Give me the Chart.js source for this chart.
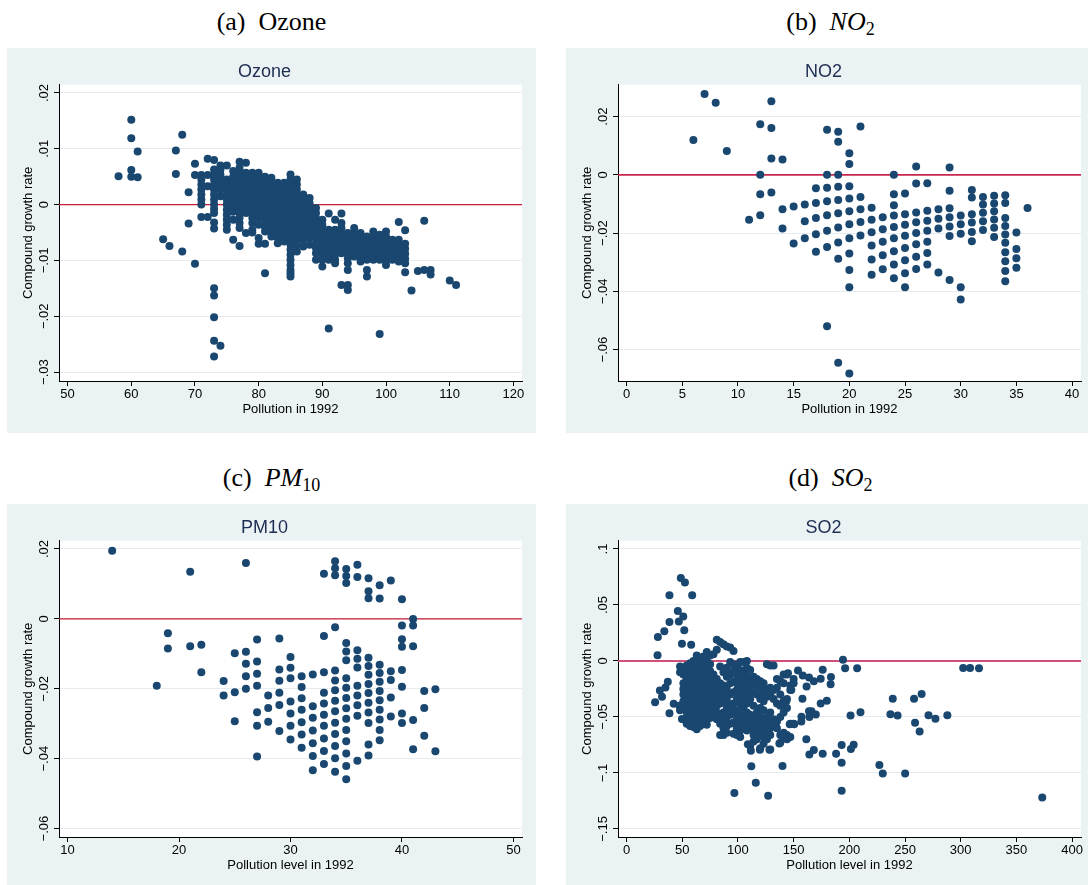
<!DOCTYPE html>
<html>
<head>
<meta charset="utf-8">
<script src="https://cdn.jsdelivr.net/npm/chart.js@4.4.0/dist/chart.umd.min.js"></script>
<style>
html,body{margin:0;padding:0;background:#fff;overflow:hidden}
#page{position:relative;width:1088px;height:885px;overflow:hidden;background:#fff}
.cap{position:absolute;width:529px;text-align:center;font-family:"Liberation Serif","Times New Roman",serif;font-size:26px;line-height:30px;color:#000;white-space:nowrap}
.cap .lab{margin-right:13px}
.cap i{font-style:italic}
.cap sub{font-size:18px;line-height:0;vertical-align:-5px}
.panel{position:absolute;width:529px;height:385px;background:#EAF2F3}
.panel canvas{display:block}
</style>
</head>
<body>
<div id="page">
  <div class="cap" style="left:7px;top:7px"><span class="lab">(a)</span>Ozone</div>
  <div class="cap" style="left:566px;top:7px"><span class="lab">(b)</span><i>NO</i><sub>2</sub></div>
  <div class="cap" style="left:7px;top:463px"><span class="lab">(c)</span><i>PM</i><sub>10</sub></div>
  <div class="cap" style="left:566px;top:463px"><span class="lab">(d)</span><i>SO</i><sub>2</sub></div>
  <div class="panel" style="left:7px;top:48px"><canvas id="cOzone" width="529" height="385"></canvas></div>
  <div class="panel" style="left:566px;top:48px"><canvas id="cNO2" width="529" height="385"></canvas></div>
  <div class="panel" style="left:7px;top:504px"><canvas id="cPM10" width="529" height="385"></canvas></div>
  <div class="panel" style="left:566px;top:504px"><canvas id="cSO2" width="529" height="385"></canvas></div>
</div>
<script>
// ---------------- Ozone ----------------
const ozonePollution = [58,60,61,65,66,67,68,69,70,71,72,73,74,75,76,77,78,79,80,81,82,83,84,85,86,87,88,89,90,91,92,93,94,95,96,97,98,99,100,101,102,103,104,105,106,107,110,111];
const ozoneGrowth = [
  [0.0051],
  [0.0152,0.0119,0.0062,0.005],
  [0.0095,0.0049],
  [-0.0062],
  [-0.0074],
  [0.0097,0.0055],
  [0.0125,-0.0084],
  [0.0022,-0.0034],
  [0.0073,0.0053,-0.0106],
  [0.0053,0.0045,0.0036,0.0027,0.0018,0.0009,0.0,-0.0022],
  [0.0082,0.0053,0.0033,-0.0022],
  [0.008,0.0063,0.0054,0.0045,0.0036,0.0027,0.0018,0.0009,0.0,-0.0008,-0.0015,-0.0032,-0.0043,-0.015,-0.0163,-0.0202,-0.0244,-0.0272],
  [0.007,0.0063,0.0054,0.0045,0.0036,0.0027,0.0015,-0.0253],
  [0.007,0.0045,0.0036,0.0027,0.0018,0.0009,0.0,-0.0009,-0.0018,-0.0027,-0.0036,-0.0045],
  [0.006,0.005,0.0041,0.0032,0.0023,0.0014,0.0005,-0.0004,-0.0013,-0.0027,-0.0063],
  [0.0077,0.0066,0.0057,0.0048,0.0039,0.003,0.0021,0.0012,0.0003,-0.0006,-0.0015,-0.0024,-0.0033,-0.0042,-0.0074],
  [0.0075,0.0057,0.0048,0.0039,0.003,0.0021,0.0012,0.0003,-0.0006,-0.0015,-0.0051],
  [0.0057,0.0048,0.0039,0.003,0.0021,0.0012,0.0003,-0.0006,-0.0015,-0.0024,-0.0033,-0.0045,-0.005],
  [0.0057,0.0048,0.0039,0.003,0.0021,0.0012,0.0003,-0.0006,-0.0015,-0.0024,-0.0036,-0.006,-0.007],
  [0.005,0.0041,0.0032,0.0023,0.0014,0.0005,-0.0004,-0.0013,-0.0022,-0.0031,-0.004,-0.0048,-0.007,-0.0123],
  [0.0048,0.0039,0.003,0.0021,0.0012,0.0003,-0.0006,-0.0015,-0.0024,-0.0033,-0.0042,-0.0051,-0.0057],
  [0.0039,0.003,0.0021,0.0012,0.0003,-0.0006,-0.0015,-0.0024,-0.0033,-0.0042,-0.0051,-0.006,-0.0069],
  [0.0039,0.003,0.0021,0.0012,0.0003,-0.0006,-0.0015,-0.0024,-0.0033,-0.0042,-0.0051,-0.006,-0.0066],
  [0.0054,0.0045,0.0036,0.0027,0.0018,0.0009,0.0,-0.0009,-0.0018,-0.0027,-0.0036,-0.0045,-0.0054,-0.0063,-0.0072,-0.0081,-0.009,-0.0099,-0.0108,-0.0117,-0.0123,-0.0129],
  [0.0045,0.0036,0.0027,0.0018,0.0009,0.0,-0.0009,-0.0018,-0.0027,-0.0036,-0.0045,-0.0054,-0.0063,-0.0072,-0.0084],
  [0.0018,0.0009,0.0,-0.0009,-0.0018,-0.0027,-0.0036,-0.0045,-0.0054,-0.0063,-0.0075],
  [0.0012,0.0003,-0.0006,-0.0015,-0.0024,-0.0033,-0.0042,-0.0051,-0.006,-0.0072],
  [-0.0006,-0.0015,-0.0024,-0.0033,-0.0042,-0.0051,-0.006,-0.0069,-0.0078,-0.0087,-0.0099],
  [-0.0027,-0.0036,-0.0045,-0.0054,-0.0063,-0.0072,-0.0081,-0.009,-0.0099,-0.0111],
  [-0.0016,-0.0045,-0.0054,-0.0063,-0.0072,-0.0081,-0.009,-0.0099,-0.0222],
  [-0.0027,-0.0045,-0.0054,-0.0063,-0.0072,-0.0081,-0.009,-0.0099,-0.0105],
  [-0.0016,-0.0033,-0.0042,-0.0051,-0.006,-0.0069,-0.0078,-0.0087,-0.0144],
  [-0.0051,-0.006,-0.0069,-0.0078,-0.0087,-0.0096,-0.0105,-0.0117,-0.0144,-0.0153],
  [-0.0042,-0.0051,-0.006,-0.0069,-0.0078,-0.0087,-0.0093],
  [-0.0051,-0.006,-0.0069,-0.0078,-0.0087,-0.0096,-0.0102],
  [-0.0057,-0.0066,-0.0075,-0.0084,-0.0093,-0.0099,-0.0117,-0.0129],
  [-0.0048,-0.0057,-0.0066,-0.0075,-0.0084,-0.0093,-0.0099],
  [-0.0054,-0.0063,-0.0072,-0.0081,-0.009,-0.0099,-0.0232],
  [-0.0048,-0.0057,-0.0066,-0.0075,-0.0084,-0.0093,-0.0102,-0.0108],
  [-0.0063,-0.0072,-0.0081,-0.009,-0.0099],
  [-0.0031,-0.0063,-0.0072,-0.0081,-0.009,-0.0099,-0.0102],
  [-0.0046,-0.007,-0.0079,-0.0088,-0.0097,-0.0105,-0.0121],
  [-0.0154],
  [-0.0119],
  [-0.0029,-0.0117],
  [-0.0117,-0.0125],
  [-0.0136],
  [-0.0144]
];
const ozoneXTicks = [50,60,70,80,90,100,110,120];
const ozoneYTicks = [-0.03,-0.02,-0.01,0,0.01,0.02];
const ozoneYLabels = ['\u2212.03','\u2212.02','\u2212.01','0','.01','.02'];

// ---------------- NO2 ----------------
const no2Pollution = [6,7,8,9,11,12,13,14,15,16,17,18,19,20,21,22,23,24,25,26,27,28,29,30,31,32,33,34,35,36];
const no2Growth = [
  [0.012],
  [0.0278],
  [0.0248],
  [0.0082],
  [-0.0154],
  [0.0174,0,-0.0067,-0.0139],
  [0.0253,0.0161,0.0056,-0.0061],
  [0.0053,-0.0118,-0.0184],
  [-0.0109,-0.0236],
  [-0.0102,-0.0159,-0.0218],
  [-0.0046,-0.0097,-0.0148,-0.0204,-0.0264],
  [0.0155,0,-0.0044,-0.0091,-0.0139,-0.0192,-0.0248,-0.052],
  [0.0148,0.0114,0,-0.0041,-0.0086,-0.0132,-0.0181,-0.0232,-0.0288,-0.0645],
  [0.0074,0.0037,-0.0039,-0.0081,-0.0125,-0.017,-0.0218,-0.027,-0.0327,-0.0386,-0.0682],
  [0.0166,-0.0076,-0.0118,-0.0162,-0.0208],
  [-0.0113,-0.0154,-0.0197,-0.0243,-0.0291,-0.0343],
  [-0.0146,-0.0187,-0.023,-0.0276,-0.0324],
  [0,-0.0067,-0.0104,-0.014,-0.0179,-0.0218,-0.0262,-0.0308,-0.0355],
  [-0.0064,-0.0135,-0.0171,-0.0209,-0.0251,-0.0293,-0.0338,-0.0386],
  [0.0029,-0.003,-0.0129,-0.0163,-0.02,-0.0238,-0.0281,-0.0323],
  [-0.0029,-0.0123,-0.0158,-0.0192,-0.023,-0.0268,-0.0308],
  [-0.0118,-0.0151,-0.0184,-0.0335],
  [0.0025,-0.0055,-0.0115,-0.0146,-0.0177,-0.021,-0.0361],
  [-0.014,-0.017,-0.0202,-0.0386,-0.0428],
  [-0.0052,-0.0078,-0.0135,-0.0164,-0.0196,-0.0228],
  [-0.0076,-0.0102,-0.013,-0.0159,-0.0189],
  [-0.0072,-0.0098,-0.0125,-0.0153,-0.0182,-0.0213],
  [-0.007,-0.0097,-0.0148,-0.0176,-0.0205,-0.0233,-0.0266,-0.0297,-0.033,-0.0365],
  [-0.0198,-0.0255,-0.0286,-0.0319],
  [-0.0114]
];
const no2XTicks = [0,5,10,15,20,25,30,35,40];
const no2YTicks = [-0.06,-0.04,-0.02,0,0.02];
const no2YLabels = ['\u2212.06','\u2212.04','\u2212.02','0','.02'];

// ---------------- PM10 ----------------
const pm10Pollution = [14,18,19,21,22,24,25,26,27,28,29,30,31,32,33,34,35,36,37,38,39,40,41,42,43];
const pm10Growth = [
  [0.0195],
  [-0.0191],
  [-0.0041,-0.0085],
  [0.0135,-0.0078],
  [-0.0074,-0.0153],
  [-0.0178,-0.0219],
  [-0.0098,-0.021,-0.0293],
  [0.016,-0.0094,-0.0128,-0.0164,-0.02],
  [-0.0059,-0.0122,-0.0157,-0.0191,-0.0267,-0.0306,-0.0394],
  [-0.0219,-0.0255,-0.0294],
  [-0.0056,-0.0145,-0.0177,-0.0211,-0.0246,-0.0321],
  [-0.0109,-0.014,-0.017,-0.0236,-0.0271,-0.0306,-0.0345],
  [-0.0164,-0.0195,-0.0227,-0.026,-0.0296,-0.0331,-0.0369],
  [-0.0159,-0.025,-0.0283,-0.0319,-0.0356,-0.0392,-0.0433],
  [0.0129,-0.0049,-0.0153,-0.0211,-0.0242,-0.0274,-0.0306,-0.0342,-0.0378,-0.0415],
  [0.0165,0.0145,0.0125,-0.0024,-0.0148,-0.0176,-0.0204,-0.0234,-0.0264,-0.0297,-0.0329,-0.0364,-0.0399,-0.0437],
  [0.0143,0.0123,0.0103,-0.0069,-0.0093,-0.0118,-0.017,-0.0197,-0.0226,-0.0256,-0.0286,-0.0318,-0.035,-0.0385,-0.0421,-0.0459],
  [0.0155,0.012,-0.009,-0.0114,-0.0139,-0.0191,-0.0219,-0.0247,-0.0277,-0.0406],
  [0.0116,0.0079,0.0059,-0.0111,-0.0135,-0.016,-0.0186,-0.0212,-0.024,-0.0268,-0.0298,-0.0359,-0.0391],
  [0.0096,0.0058,-0.0131,-0.0155,-0.018,-0.0206,-0.0233,-0.026,-0.0288,-0.0318,-0.0347],
  [0.011,-0.015,-0.0175,-0.0225,-0.0279],
  [0.0056,-0.0019,-0.0058,-0.008,-0.0146,-0.0194,-0.0271,-0.0298],
  [0,-0.0019,-0.0078,-0.0289,-0.0373],
  [-0.0206,-0.0255,-0.0334],
  [-0.0201,-0.0379]
];
const pm10XTicks = [10,20,30,40,50];
const pm10YTicks = [-0.06,-0.04,-0.02,0,0.02];
const pm10YLabels = ['\u2212.06','\u2212.04','\u2212.02','0','.02'];

// ---------------- SO2 ----------------
const so2Level = [48,51,54,57,60,63,66,69,72,75,78,81,84,87,90,93,96,99,102,105,108,111,114,117,120,123,126,129,132,135,138,141,144,147,150,
  48.7,52.4,38.5,58.9,46,50.9,38.5,46.9,33.9,51.8,28.1,49.7,58,27.8,25.6,29.9,31.8,34.9,37,38.5,42.3,49.7,47.5,
  194.3,196.2,207,176.1,183.5,183.2,174.3,168.1,163.8,161.6,158.2,153.9,157.9,174.3,179.8,201.1,210,169.9,163.8,164.1,157,150.5,146.5,
  176.1,188.1,193.1,203.9,201.4,193.1,193.1,164.1,168.1,227,230,250.1,239,236.9,243.3,258.1,264.9,259,263.1,271.1,277.3,288,
  302.2,308.4,316.4,373.2,96.8,116,127.1,112,140,137.2,111.6,119.7,128.3,108.9,144.9,147.9,143.4,166,156.9,161.4];
const so2Growth = [
  [-0.005,-0.01,-0.04,-0.044],
  [-0.006,-0.012,-0.02,-0.025,-0.03,-0.036,-0.042,-0.052],
  [-0.004,-0.01,-0.016,-0.022,-0.028,-0.034,-0.04,-0.046,-0.052,-0.056],
  [-0.002,-0.008,-0.014,-0.02,-0.026,-0.032,-0.038,-0.044,-0.05,-0.058],
  [0.0,-0.006,-0.012,-0.018,-0.024,-0.03,-0.036,-0.042,-0.048,-0.054,-0.059],
  [0.005,-0.003,-0.009,-0.015,-0.021,-0.027,-0.033,-0.039,-0.045,-0.051,-0.057,-0.061],
  [0.002,-0.004,-0.01,-0.016,-0.022,-0.028,-0.034,-0.04,-0.046,-0.052,-0.058],
  [0.004,-0.002,-0.008,-0.014,-0.02,-0.026,-0.032,-0.038,-0.044,-0.05,-0.056],
  [0.008,0.002,-0.005,-0.011,-0.017,-0.023,-0.029,-0.035,-0.041,-0.047,-0.053,-0.057],
  [0.005,-0.003,-0.009,-0.015,-0.021,-0.027,-0.033,-0.039,-0.045,-0.051],
  [0.006,-0.012,-0.018,-0.024,-0.03,-0.036,-0.042,-0.048],
  [0.019,0.01,-0.016,-0.022,-0.028,-0.034,-0.04,-0.046,-0.052],
  [0.017,-0.005,-0.02,-0.026,-0.032,-0.038,-0.05,-0.056,-0.066],
  [0.015,-0.01,-0.022,-0.03,-0.036,-0.046,-0.054,-0.06,-0.066],
  [0.013,-0.006,-0.014,-0.025,-0.035,-0.042,-0.05,-0.058,-0.064],
  [0.012,-0.001,-0.012,-0.02,-0.03,-0.04,-0.048,-0.056],
  [0.009,-0.003,-0.009,-0.018,-0.028,-0.038,-0.046,-0.055,-0.065],
  [-0.005,-0.012,-0.02,-0.026,-0.034,-0.044,-0.052,-0.06,-0.066],
  [-0.001,-0.008,-0.016,-0.024,-0.03,-0.038,-0.048,-0.056,-0.062,-0.068],
  [-0.001,-0.01,-0.018,-0.026,-0.034,-0.042,-0.05,-0.058],
  [0.0,-0.006,-0.014,-0.022,-0.03,-0.038,-0.046,-0.054,-0.062],
  [-0.008,-0.016,-0.024,-0.034,-0.048,-0.056,-0.06,-0.076],
  [-0.014,-0.02,-0.028,-0.04,-0.052,-0.058,-0.066,-0.072],
  [-0.016,-0.022,-0.03,-0.046,-0.056,-0.062,-0.07],
  [-0.018,-0.024,-0.034,-0.042,-0.05,-0.058,-0.064,-0.078],
  [-0.02,-0.028,-0.036,-0.044,-0.054,-0.06,-0.068,-0.074],
  [-0.003,-0.026,-0.032,-0.05,-0.056,-0.064,-0.07],
  [-0.004,-0.024,-0.03,-0.046,-0.054,-0.06,-0.066,-0.079],
  [-0.004,-0.026,-0.034,-0.052,-0.058],
  [-0.016,-0.024,-0.038,-0.054,-0.06],
  [-0.018,-0.03,-0.04,-0.05,-0.066,-0.073],
  [-0.012,-0.02,-0.036,-0.046,-0.064,-0.068],
  [-0.012,-0.034,-0.042,-0.066,-0.07],
  [-0.022,-0.026,-0.056,-0.068],
  [-0.016,-0.02,-0.056],
  [0.074],[0.070],[0.0587],[0.0587],[0.0446],[0.0398],[0.0347],[0.0353],[0.0266],[0.0275],[0.0213],[0.0153],[0.0144],[0.0051],
  [-0.0368],[-0.0263],[-0.032],[-0.0237],[-0.0186],[-0.0467],[-0.0383],[-0.0518],[-0.040],
  [0.0012],[-0.0066],[-0.0066],[-0.0078],[-0.0144],[-0.0207],[-0.0159],[-0.018],[-0.0147],[-0.0228],[-0.0129],[-0.0084],[-0.0338],[-0.038],[-0.0356],[-0.0488],[-0.0458],[-0.0479],[-0.0449],[-0.05],[-0.0497],[-0.0566],[-0.0566],
  [-0.0829],[-0.0829],[-0.0751],[-0.0749],[-0.0787],[-0.091],[-0.1159],[-0.0835],[-0.0796],[-0.0928],[-0.1006],[-0.1006],[-0.0338],[-0.0476],[-0.0488],[-0.0338],[-0.0296],[-0.0551],[-0.0629],[-0.0485],[-0.0515],[-0.0485],
  [-0.0063],[-0.0063],[-0.0066],[-0.1219],[-0.118],[-0.1087],[-0.1204],[-0.094],[-0.0937],[-0.0737],[-0.0802],[-0.0793],[-0.0793],[-0.0743],[-0.011],[-0.026],[-0.036],[-0.045],[-0.054],[-0.07]
];
const so2XTicks = [0,50,100,150,200,250,300,350,400];
const so2YTicks = [-0.15,-0.1,-0.05,0,0.05,0.1];
const so2YLabels = ['\u2212.15','\u2212.1','\u2212.05','0','.05','.1'];

const referenceLevel = 0;

// ---------------- helpers ----------------
Chart.defaults.font.family = '"Liberation Sans", Arial, sans-serif';
Chart.defaults.color = '#000';

function columnsToPoints(xs, ys) {
  const pts = [];
  xs.forEach((x, i) => ys[i].forEach(y => pts.push({x: x, y: y})));
  return pts;
}

const plotBackground = {
  id: 'plotBackground',
  beforeDraw(chart) {
    const a = chart.chartArea, ctx = chart.ctx;
    ctx.save();
    ctx.fillStyle = '#ffffff';
    ctx.fillRect(a.left, a.top, a.right - a.left, a.bottom - a.top);
    ctx.restore();
  }
};

function makePanel(id, opts) {
  const points = columnsToPoints(opts.xs, opts.ys);
  new Chart(document.getElementById(id), {
    type: 'scatter',
    data: {
      datasets: [
        {
          type: 'scatter',
          data: points,
          backgroundColor: '#1A476F',
          borderColor: '#1A476F',
          borderWidth: 0,
          pointRadius: 4,
          pointHoverRadius: 4
        },
        {
          type: 'line',
          data: [{x: opts.xMin, y: referenceLevel}, {x: opts.xMax, y: referenceLevel}],
          borderColor: opts.refColor,
          borderWidth: opts.refWidth,
          pointRadius: 0,
          fill: false
        }
      ]
    },
    options: {
      responsive: false,
      animation: false,
      events: [],
      layout: {padding: {left: 0, right: 14, top: 0, bottom: 0}},
      plugins: {
        legend: {display: false},
        tooltip: {enabled: false},
        title: {
          display: true,
          text: opts.title,
          color: '#1E2D53',
          font: {size: 18, weight: 'normal'},
          padding: {top: 13, bottom: 2}
        }
      },
      scales: {
        x: {
          type: 'linear',
          min: opts.xMin,
          max: opts.xMax,
          afterBuildTicks: s => { s.ticks = opts.xTicks.map(v => ({value: v})); },
          afterFit: s => { s.height = 52; },
          grid: {drawOnChartArea: false, drawTicks: true, tickLength: 5, tickColor: '#000', tickWidth: 1},
          border: {display: true, color: '#000', width: 1},
          ticks: {autoSkip: false, maxRotation: 0, minRotation: 0, padding: 1, color: '#000', font: {size: 13},
                  callback: (v, i) => String(opts.xTicks[i])},
          title: {display: true, text: opts.xTitle, color: '#000', font: {size: 13}, padding: {top: 0, bottom: 16}}
        },
        y: {
          type: 'linear',
          min: opts.yMin,
          max: opts.yMax,
          afterBuildTicks: s => { s.ticks = opts.yTicks.map(v => ({value: v})); },
          afterFit: s => { s.width = 52; },
          grid: {color: '#E4ECEF', lineWidth: 1, drawTicks: true, tickLength: 5, tickColor: '#000', tickWidth: 1},
          border: {display: true, color: '#000', width: 1},
          ticks: {autoSkip: false, minRotation: 90, maxRotation: 90, crossAlign: 'center', padding: -3, color: '#000', font: {size: 13},
                  callback: (v, i) => opts.yLabels[i]},
          title: {display: true, text: 'Compound growth rate', color: '#000', font: {size: 13}, padding: {top: 14, bottom: 0}}
        }
      }
    },
    plugins: [plotBackground]
  });
}

makePanel('cOzone', {
  title: 'Ozone', xs: ozonePollution, ys: ozoneGrowth,
  xMin: 48.65, xMax: 121.35, yMin: -0.0316, yMax: 0.0215,
  xTicks: ozoneXTicks, yTicks: ozoneYTicks, yLabels: ozoneYLabels,
  xTitle: 'Pollution in 1992', refColor: '#C41E3A', refWidth: 1.3
});
makePanel('cNO2', {
  title: 'NO2', xs: no2Pollution, ys: no2Growth,
  xMin: -0.77, xMax: 40.8, yMin: -0.0708, yMax: 0.031,
  xTicks: no2XTicks, yTicks: no2YTicks, yLabels: no2YLabels,
  xTitle: 'Pollution in 1992', refColor: '#C8264C', refWidth: 1.6
});
makePanel('cPM10', {
  title: 'PM10', xs: pm10Pollution, ys: pm10Growth,
  xMin: 9.23, xMax: 50.77, yMin: -0.0624, yMax: 0.0224,
  xTicks: pm10XTicks, yTicks: pm10YTicks, yLabels: pm10YLabels,
  xTitle: 'Pollution level in 1992', refColor: '#C41E3A', refWidth: 1.3
});
makePanel('cSO2', {
  title: 'SO2', xs: so2Level, ys: so2Growth,
  xMin: -7.7, xMax: 408, yMin: -0.1572, yMax: 0.1075,
  xTicks: so2XTicks, yTicks: so2YTicks, yLabels: so2YLabels,
  xTitle: 'Pollution level in 1992', refColor: '#D0507A', refWidth: 2
});
</script>
</body>
</html>
